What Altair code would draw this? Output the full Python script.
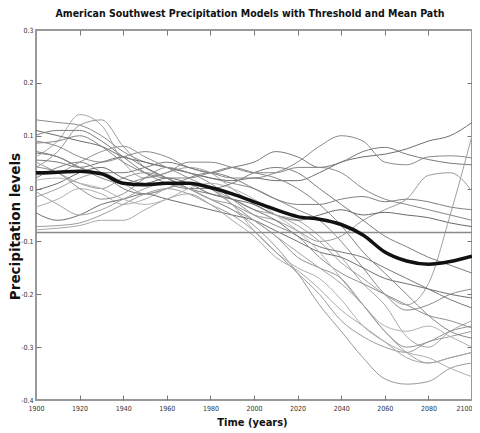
import altair as alt
import pandas as pd

# ---------------- data ----------------
years = list(range(1900, 2101, 10))

model_series = [
    [0.13, 0.125, 0.12, 0.10, 0.07, 0.05, 0.04, 0.03, 0.02, 0.01, 0.0, -0.02, -0.04, -0.06, -0.10, -0.15, -0.20, -0.23, -0.22, -0.20, -0.19],
    [0.06, 0.09, 0.14, 0.12, 0.05, 0.02, 0.03, 0.04, 0.03, 0.0, -0.03, -0.05, -0.06, -0.09, -0.13, -0.18, -0.22, -0.28, -0.30, -0.27, -0.25],
    [0.04, 0.07, 0.12, 0.13, 0.08, 0.04, 0.02, 0.00, -0.02, -0.04, -0.07, -0.11, -0.16, -0.22, -0.27, -0.32, -0.36, -0.37, -0.365, -0.34, -0.33],
    [0.11, 0.10, 0.09, 0.08, 0.06, 0.05, 0.04, 0.03, 0.02, 0.015, 0.02, 0.015, 0.015, 0.03, 0.05, 0.06, 0.065, 0.075, 0.09, 0.10, 0.125],
    [0.09, 0.08, 0.06, 0.05, 0.06, 0.07, 0.06, 0.04, 0.03, 0.02, 0.02, 0.03, 0.05, 0.08, 0.10, 0.09, 0.05, 0.045, 0.06, 0.062, 0.058],
    [0.07, 0.06, 0.04, 0.03, 0.03, 0.04, 0.05, 0.04, 0.03, 0.04, 0.05, 0.07, 0.06, 0.04, 0.05, 0.07, 0.078, 0.065, 0.055, 0.048, 0.045],
    [0.05, 0.03, 0.01, 0.0, 0.02, 0.03, 0.02, 0.0, -0.02, -0.03, -0.05, -0.06, -0.08, -0.10, -0.09, -0.06, -0.04, -0.02, 0.025, 0.03, -0.005],
    [0.02, 0.04, 0.05, 0.03, 0.0, -0.01, 0.0, 0.02, 0.03, 0.02, 0.0, -0.02, -0.03, -0.03, -0.02, -0.015, -0.025, -0.02, -0.025, -0.035, -0.04],
    [-0.003, 0.01, 0.03, 0.04, 0.02, 0.01, 0.02, 0.01, -0.01, -0.02, -0.03, -0.05, -0.06, -0.05, -0.04, -0.05, -0.045, -0.05, -0.055, -0.065, -0.072],
    [-0.016, 0.0, 0.02, 0.03, 0.01, -0.01, 0.0, 0.01, 0.0, -0.02, -0.04, -0.05, -0.07, -0.10, -0.14, -0.17, -0.20, -0.22, -0.18, -0.05, 0.10],
    [-0.035, -0.02, 0.0, -0.01, -0.03, -0.02, 0.0, 0.01, 0.0, -0.03, -0.08, -0.12, -0.15, -0.17, -0.21, -0.26, -0.29, -0.31, -0.32, -0.34, -0.356],
    [-0.046, -0.06, -0.05, -0.03, -0.02, -0.01, -0.02, -0.03, -0.04, -0.05, -0.06, -0.08, -0.10, -0.12, -0.13, -0.15, -0.17, -0.18, -0.19, -0.20, -0.207],
    [-0.072, -0.07, -0.065, -0.05, -0.03, -0.01, 0.0, -0.01, -0.03, -0.05, -0.08, -0.12, -0.16, -0.20, -0.25, -0.28, -0.30, -0.31, -0.29, -0.28, -0.27],
    [-0.078, -0.075, -0.07, -0.06, -0.06, -0.04, -0.02, -0.01, -0.03, -0.06, -0.09, -0.13, -0.155, -0.19, -0.23, -0.26, -0.29, -0.32, -0.33, -0.32, -0.31],
    [0.041, 0.03, 0.0, -0.02, -0.01, 0.02, 0.04, 0.03, 0.01, -0.02, -0.05, -0.07, -0.09, -0.13, -0.16, -0.18, -0.20, -0.22, -0.24, -0.25, -0.264],
    [0.054, 0.05, 0.04, 0.05, 0.06, 0.04, 0.02, 0.0, -0.01, -0.02, -0.04, -0.06, -0.09, -0.11, -0.12, -0.13, -0.15, -0.17, -0.19, -0.21, -0.226],
    [0.016, 0.02, 0.01, 0.0, -0.02, -0.03, -0.02, 0.0, 0.01, 0.0, -0.02, -0.05, -0.08, -0.12, -0.17, -0.22, -0.26, -0.27, -0.26, -0.28, -0.30],
    [0.026, 0.03, 0.05, 0.07, 0.08, 0.06, 0.04, 0.02, 0.0, -0.03, -0.06, -0.09, -0.13, -0.15, -0.17, -0.22, -0.27, -0.30, -0.29, -0.27, -0.26],
    [0.086, 0.09, 0.10, 0.08, 0.05, 0.03, 0.02, 0.02, 0.03, 0.04, 0.03, 0.02, 0.0, -0.03, -0.07, -0.12, -0.16, -0.20, -0.24, -0.27, -0.283],
    [0.101, 0.11, 0.11, 0.09, 0.06, 0.03, 0.01, 0.0, 0.0, 0.01, 0.03, 0.04, 0.03, 0.0, -0.03, -0.06, -0.09, -0.11, -0.13, -0.145, -0.16],
    [-0.006, -0.03, -0.05, -0.04, -0.02, 0.0, 0.01, 0.0, -0.02, -0.04, -0.06, -0.09, -0.12, -0.15, -0.18, -0.22, -0.27, -0.31, -0.33, -0.32, -0.31],
    [0.067, 0.06, 0.04, 0.02, 0.01, 0.02, 0.03, 0.05, 0.05, 0.04, 0.03, 0.03, 0.04, 0.04, 0.03, 0.0, -0.02, -0.03, -0.04, -0.05, -0.06],
]
model_shades = [
    "#8c8c8c", "#a6a6a6", "#999999", "#6e6e6e", "#8a8a8a", "#7a7a7a",
    "#9a9a9a", "#808080", "#6a6a6a", "#a0a0a0", "#b0b0b0", "#707070",
    "#9c9c9c", "#a8a8a8", "#8f8f8f", "#787878", "#b3b3b3", "#939393",
    "#858585", "#7d7d7d", "#a3a3a3", "#888888",
]
mean_path = [0.030, 0.031, 0.033, 0.028, 0.010, 0.007, 0.010, 0.010, 0.002, -0.010, -0.025,
             -0.040, -0.053, -0.058, -0.068, -0.088, -0.120, -0.137, -0.143, -0.138, -0.128]
threshold_value = -0.083

x_ticks = list(range(1900, 2101, 20))
y_ticks = [0.3, 0.2, 0.1, 0.0, -0.1, -0.2, -0.3, -0.4]

title_text = "American Southwest Precipitation Models with Threshold and Mean Path"
x_title = "Time (years)"
y_title = "Precipitation levels"

# ---------------- tables ----------------
rows = []
for i, series in enumerate(model_series):
    for yr, v in zip(years, series):
        rows.append({"model": f"m{i+1}", "year": yr, "value": v, "shade": model_shades[i]})
df_models = pd.DataFrame(rows)
df_mean = pd.DataFrame({"year": years, "value": mean_path})
df_thr = pd.DataFrame({"x0": [years[0]], "x1": [years[-1]], "value": [threshold_value]})

# ---------------- chart ----------------
W, H = 436, 370
COND = "DejaVu Sans Condensed, DejaVu Sans, sans-serif"

xs = alt.Scale(domain=[1900, 2100], nice=False, zero=False)
ys = alt.Scale(domain=[-0.4, 0.3], nice=False, zero=False)
ylab = "toString(round(datum.value*10)/10)"
last_x_align = {"condition": {"test": f"datum.value >= {x_ticks[-1]}", "value": "right"}, "value": "center"}

lines = alt.Chart(df_models).mark_line(strokeWidth=1, interpolate="monotone").encode(
    x=alt.X("year:Q", scale=xs, axis=alt.Axis(
        orient="bottom", values=x_ticks, format="d", title=x_title, tickSize=0,
        domain=False, grid=False, labelPadding=4, labelFontSize=7, labelFont=COND,
        labelColor="#333", labelFlush=False, labelAlign=last_x_align,
        titleFont=COND, titleFontSize=11, titleFontWeight="bold", titleColor="#111",
        titleX=W / 2 - 2, titleY=25, titleBaseline="alphabetic")),
    y=alt.Y("value:Q", scale=ys, axis=alt.Axis(
        orient="left", values=y_ticks, labelExpr=ylab, title=y_title, tickSize=0,
        domain=False, grid=False, labelPadding=3, labelFontSize=7, labelFont=COND,
        labelColor="#333", labelFlush=False,
        titleFont="DejaVu Sans", titleFontSize=13.5, titleFontWeight="bold", titleColor="#111",
        titleX=-17, titleY=196, titleAngle=270, titleBaseline="alphabetic")),
    detail="model:N",
    color=alt.Color("shade:N", scale=None),
)

thr = alt.Chart(df_thr).mark_rule(color="#8a8a8a", strokeWidth=1.5).encode(
    x=alt.X("x0:Q", scale=xs, axis=alt.Axis(
        orient="bottom", offset=-H, values=x_ticks[1:-1], labels=False, title=None,
        tickSize=5, domain=False, grid=False)),
    x2="x1:Q",
    y=alt.Y("value:Q", scale=ys, axis=alt.Axis(
        orient="left", offset=-W, values=y_ticks[1:-1], labels=False, title=None,
        tickSize=5, domain=False, grid=False)),
)

mean = alt.Chart(df_mean).mark_line(color="#111111", strokeWidth=3.5, interpolate="monotone").encode(
    x=alt.X("year:Q", scale=xs, axis=alt.Axis(
        orient="top", offset=-H, values=x_ticks[1:-1], labels=False, title=None,
        tickSize=5, domain=False, grid=False)),
    y=alt.Y("value:Q", scale=ys, axis=alt.Axis(
        orient="right", offset=-W, values=y_ticks[1:-1], labels=False, title=None,
        tickSize=5, domain=False, grid=False)),
)

chart = alt.layer(lines, thr, mean).resolve_axis(
    x="independent", y="independent"
).properties(
    width=W, height=H,
    title=alt.TitleParams(text=title_text, font=COND, fontSize=10.5, fontWeight="bold",
                          color="#111", anchor="middle", offset=7, dx=-4),
    padding={"left": 28, "top": 22, "right": 0, "bottom": 28},
    autosize=alt.AutoSizeParams(type="none"),
).configure_view(
    stroke="#999999", strokeWidth=2
).configure_axis(
    tickColor="#777777", tickWidth=1
)

chart.save("out.html", embed_options={"renderer": "svg", "actions": False})
